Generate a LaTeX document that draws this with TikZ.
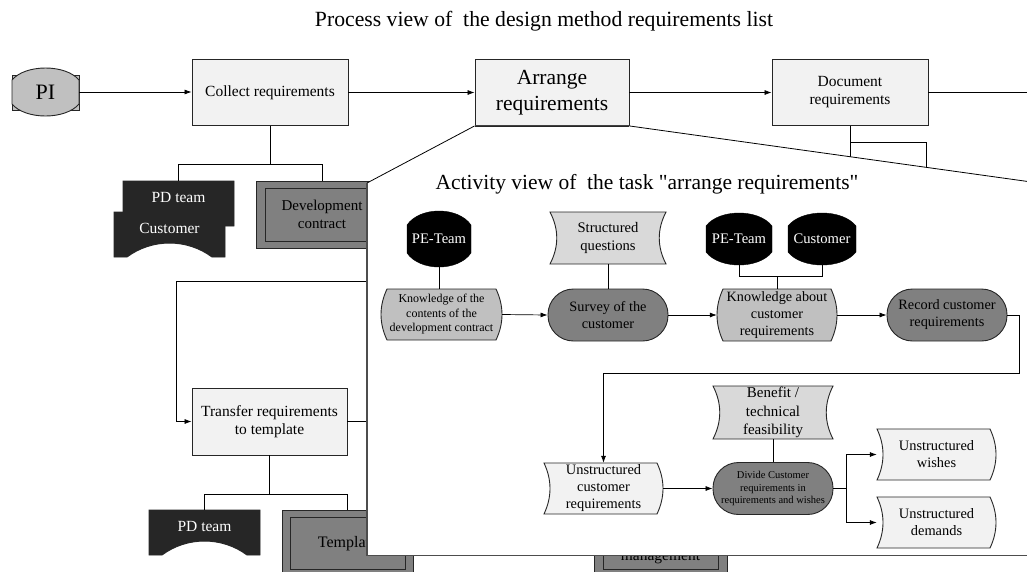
\documentclass[tikz,border=0pt]{standalone}
\usepackage{fontspec}
\setmainfont{Liberation Serif}
\usetikzlibrary{arrows.meta}

\definecolor{boxfill}{HTML}{F2F2F2}
\definecolor{pigray}{HTML}{C0C0C0}
\definecolor{palegray}{HTML}{D9D9D9}
\definecolor{midgray}{HTML}{808080}
\definecolor{darkfill}{HTML}{262626}
\definecolor{edge}{HTML}{262626}
\definecolor{framecol}{HTML}{4D4D4D}

\newcommand\fs[2]{\fontsize{#1}{#2}\selectfont}

% lens: straight vertical sides, arched top and bottom (cx, cy, w, h, arch, style)
\newcommand\lensshape[6]{%
  \pgfmathsetmacro\shw{#3/2}\pgfmathsetmacro\shh{#4/2}\pgfmathsetmacro\sha{#5}%
  \filldraw[#6,shift={(#1,#2)}]
    (-\shw,-\shh+\sha) .. controls (-\shw+0.2*#3,-\shh-\sha/3) and (\shw-0.2*#3,-\shh-\sha/3) .. (\shw,-\shh+\sha)
    -- (\shw,\shh-\sha) .. controls (\shw-0.2*#3,\shh+\sha/3) and (-\shw+0.2*#3,\shh+\sha/3) .. (-\shw,\shh-\sha)
    -- cycle;}
% resource: flat top, arched bite out of the bottom (cx, cy, w, h, style)
\newcommand\bittenshape[5]{%
  \pgfmathsetmacro\shw{#3/2}\pgfmathsetmacro\shh{#4/2}\pgfmathsetmacro\shs{#3/2-13}%
  \filldraw[#5,shift={(#1,#2)}]
    (-\shw,-\shh) -- (\shw,-\shh) -- (\shw,\shh) -- (\shs,\shh)
    .. controls (0.41*\shs,\shh-18.6) and (-0.41*\shs,\shh-18.6) .. (-\shs,\shh)
    -- (-\shw,\shh) -- cycle;}
% flat top and bottom, both sides bent to the right (cx, cy, w, h, style)
\newcommand\wavyshape[5]{%
  \pgfmathsetmacro\shw{#3/2}\pgfmathsetmacro\shh{#4/2}%
  \filldraw[#5,shift={(#1,#2)}]
    (-\shw,-\shh) -- (\shw-6,-\shh) .. controls (\shw+2,-\shh/3) and (\shw+2,\shh/3) .. (\shw-6,\shh)
    -- (-\shw,\shh) .. controls (-\shw+8,\shh/3) and (-\shw+8,-\shh/3) .. cycle;}
% flat top and bottom, sides curved inwards (cx, cy, w, h, style)
\newcommand\pinchshape[5]{%
  \pgfmathsetmacro\shw{#3/2}\pgfmathsetmacro\shh{#4/2}%
  \filldraw[#5,shift={(#1,#2)}]
    (-\shw,-\shh) -- (\shw,-\shh) .. controls (\shw-9,-\shh/3) and (\shw-9,\shh/3) .. (\shw,\shh)
    -- (-\shw,\shh) .. controls (-\shw+9,\shh/3) and (-\shw+9,-\shh/3) .. cycle;}
% flat top and bottom, sides curved outwards (cx, cy, w, h, style)
\newcommand\bulgeshape[5]{%
  \pgfmathsetmacro\shw{#3/2}\pgfmathsetmacro\shh{#4/2}%
  \filldraw[#5,shift={(#1,#2)}]
    (-\shw+6,-\shh) -- (\shw-6,-\shh) .. controls (\shw+2,-\shh/3) and (\shw+2,\shh/3) .. (\shw-6,\shh)
    -- (-\shw+6,\shh) .. controls (-\shw-2,\shh/3) and (-\shw-2,-\shh/3) .. cycle;}

\begin{document}
\begin{tikzpicture}[x=1pt,y=-1pt,
  font=\fs{15.5}{18},
  every node/.style={inner sep=0pt, align=center},
  procbox/.style={draw=edge, fill=boxfill, line width=0.9pt, minimum width=156, minimum height=66},
  stadium/.style={draw=edge, fill=midgray, line width=0.9pt, rounded corners=25.5pt,
                  minimum width=120, minimum height=52},
  outerdoc/.style={draw=edge, fill=midgray, line width=0.9pt},
  innerdoc/.style={draw=edge, line width=0.9pt, text=black},
  shapeline/.style={draw=edge, line width=0.9pt},
  conn/.style={line width=0.7pt},
  arr/.style={conn, -{Latex[length=7pt,width=5pt]}},
]
\clip (0,0) rectangle (1027,571);
\fill[white] (0,0) rectangle (1027,571);

% ---------- process view ----------
\node[font=\fs{21.7}{24}] (title) at (544,21) {Process view of\ \ the design method requirements list};

\fill[pigray, draw=edge, line width=0.9pt] (12,75) rectangle (79,110);
\lensshape{45.5}{92}{67}{48}{12}{fill=pigray, shapeline}
\node[minimum width=67, minimum height=48, font=\fs{22}{24}] (pi) at (45.5,92) {PI};

\node[procbox] (col) at (270,92.5) {Collect requirements};
\node[procbox, minimum width=154, font=\fs{21.5}{25.5}] (arr) at (552,92.5) {Arrange\\requirements};
\node[procbox] (doc) at (850,92.5) {Document\\requirements};
\coordinate (rightend) at (1040,92.5);

\draw[arr] (pi.east) -- (pi.east -| col.west);
\draw[arr] (col.east) -- (arr.west);
\draw[arr] (arr.east) -- (doc.west);
\draw[conn] (doc.east) -- (rightend);

% resources of "Collect requirements"
\bittenshape{178.5}{203.5}{111}{45}{fill=darkfill, shapeline}
\node[minimum width=111, minimum height=45] (pd1) at (178.5,203.5) {};
\node[text=white] (pd1t) at (178.5,197) {PD team};
\bittenshape{169.5}{234.5}{111}{45}{fill=darkfill, shapeline}
\node[minimum width=111, minimum height=45] (cu1) at (169.5,234.5) {};
\node[text=white] (cu1t) at (169.5,228) {Customer};
\node[outerdoc, minimum width=132, minimum height=67] (dev) at (322,214.5) {};
\node[innerdoc, minimum width=114, minimum height=53, font=\fs{15}{18}] (devin) at (322,214.5) {Development\\contract};

\coordinate (cj) at (270,164);
\draw[conn] (col.south) -- (cj);
\draw[conn] (pd1.north) -- (pd1.north |- cj) -- (dev.north |- cj) -- (dev.north);

% lines below "Document requirements"
\coordinate (dj) at (850,142);
\coordinate (dend1) at (850,170);
\coordinate (dend2) at (926,175);
\draw[conn] (doc.south) -- (dend1);
\draw[conn] (dj) -| (dend2);

% "Transfer requirements to template" and its loop
\node[procbox, minimum width=155, minimum height=67] (tr) at (269.5,421.5) {Transfer requirements\\to template};
\coordinate (lp) at (420,281);
\coordinate (lc) at (176,281);
\draw[arr] (lp) -- (lc) |- (tr.west);
\draw[conn] (tr.east) -- (tr.east -| lp);

\bittenshape{204.5}{532.5}{111}{45}{fill=darkfill, shapeline}
\node[minimum width=111, minimum height=45] (pd2) at (204.5,532.5) {};
\node[text=white] (pd2t) at (204.5,526) {PD team};
\node[outerdoc, minimum width=131, minimum height=67] (tp) at (347.5,543.5) {};
\node[innerdoc, minimum width=115, minimum height=52, font=\fs{16}{18}] (tpin) at (347.5,543.5) {Template};
\coordinate (tj) at (269.5,494);
\draw[conn] (tr.south) -- (tj);
\draw[conn] (pd2.north) -- (pd2.north |- tj) -- (tp.north |- tj) -- (tp.north);

\node[outerdoc, minimum width=133, minimum height=67] (mg) at (660.5,543.5) {};
\node[innerdoc, minimum width=115, minimum height=52] (mgin) at (660.5,543.5) {};
\node[anchor=base] (mgt) at (660.5,560.5) {management};

% ---------- activity view, opened out of "Arrange requirements" ----------
\coordinate (ov1) at (367,183);
\coordinate (ov2) at (367,555.5);
\coordinate (ov3) at (1040,555.5);
\coordinate (ov4) at (1040,183.2);
\fill[white] (arr.south west) -- (ov1) -- (ov2) -- (ov3) -- (ov4) -- (arr.south east) -- cycle;
\draw[line width=0.8pt] (arr.south west) -- (ov1);
\draw[line width=0.8pt] (arr.south east) -- (ov4);
\draw[framecol, line width=1.4pt] (ov1) -- (ov2) -- (ov3);
\draw[edge, line width=0.9pt] (arr.south west) -- (arr.south east);

\node[font=\fs{21.5}{24}] (acttitle) at (647,184.5) {Activity view of\ \ the task \textquotedbl arrange requirements\textquotedbl};

% row 1
\lensshape{439}{239}{64}{56}{14}{fill=black, draw=black}
\node[minimum width=64, minimum height=56, text=white, font=\fs{14.6}{17}] (pe1) at (439,239) {PE-Team};

\pinchshape{608}{238}{116}{52}{fill=palegray, shapeline}
\node[minimum width=116, minimum height=52, font=\fs{14.6}{18}] (sq) at (608,238) {Structured\\questions};

\lensshape{739}{239}{66}{52}{13}{fill=black, draw=black}
\node[minimum width=66, minimum height=52, text=white, font=\fs{14.6}{17}] (pe2) at (739,239) {PE-Team};
\lensshape{822}{239}{68}{52}{13}{fill=black, draw=black}
\node[minimum width=68, minimum height=52, text=white, font=\fs{14.6}{17}] (cu2) at (822,239) {Customer};

\bulgeshape{441.5}{314.5}{121}{51}{fill=pigray, shapeline}
\node[minimum width=121, minimum height=51, font=\fs{12}{14.5}] (k1) at (441.5,314.5) {Knowledge of the\\contents of the\\development contract};

\node[stadium, font=\fs{14.3}{17}] (sv) at (608,315) {Survey of the\\customer};

\bulgeshape{777}{315}{120}{52}{fill=pigray, shapeline}
\node[minimum width=120, minimum height=52, font=\fs{14.2}{17}] (k2) at (777,315) {Knowledge about\\customer\\requirements};

\node[stadium, font=\fs{14.3}{17}] (rec) at (947,315) {Record customer\\requirements};

\draw[conn] (pe1.south) -- (pe1.south |- k1.north);
\draw[conn] (sq.south) -- (sv.north);
\coordinate (kj) at (777,276);
\draw[conn] (pe2.south) -- (pe2.south |- kj) -- (cu2.south |- kj) -- (cu2.south);
\draw[conn] (kj) -- (k2.north);
\draw[arr] (k1.east) -- (sv.west);
\draw[arr] (sv.east) -- (k2.west);
\draw[arr] (k2.east) -- (rec.west);

% row 2
\wavyshape{603.5}{488.5}{119}{51}{fill=boxfill, shapeline}
\node[minimum width=119, minimum height=51, font=\fs{14.4}{17}] (ucr) at (603.5,488.5) {Unstructured\\customer\\requirements};

\pinchshape{773}{412.5}{120}{53}{fill=palegray, shapeline}
\node[minimum width=120, minimum height=53, font=\fs{15}{18.5}] (ben) at (773,412.5) {Benefit /\\technical\\feasibility};

\node[stadium, font=\fs{10.5}{12.5}] (dv) at (773,488.5) {Divide Customer\\requirements in\\requirements and wishes};

\wavyshape{936.5}{454.5}{119}{51}{fill=boxfill, shapeline}
\node[minimum width=119, minimum height=51, font=\fs{14.4}{17}] (wi) at (936.5,454.5) {Unstructured\\wishes};
\wavyshape{936.5}{522.5}{119}{51}{fill=boxfill, shapeline}
\node[minimum width=119, minimum height=51, font=\fs{14.4}{17}] (de) at (936.5,522.5) {Unstructured\\demands};

\coordinate (rt) at (1019,373);
\draw[arr] (rec.east) -| (rt) -| (ucr.north);
\draw[arr] (ucr.east) -- (dv.west);
\draw[conn] (ben.south) -- (dv.north);
\coordinate (sj) at (846,488.5);
\draw[conn] (dv.east) -- (sj);
\draw[arr] (sj) |- (wi.west);
\draw[arr] (sj) |- (de.west);
\end{tikzpicture}
\end{document}
